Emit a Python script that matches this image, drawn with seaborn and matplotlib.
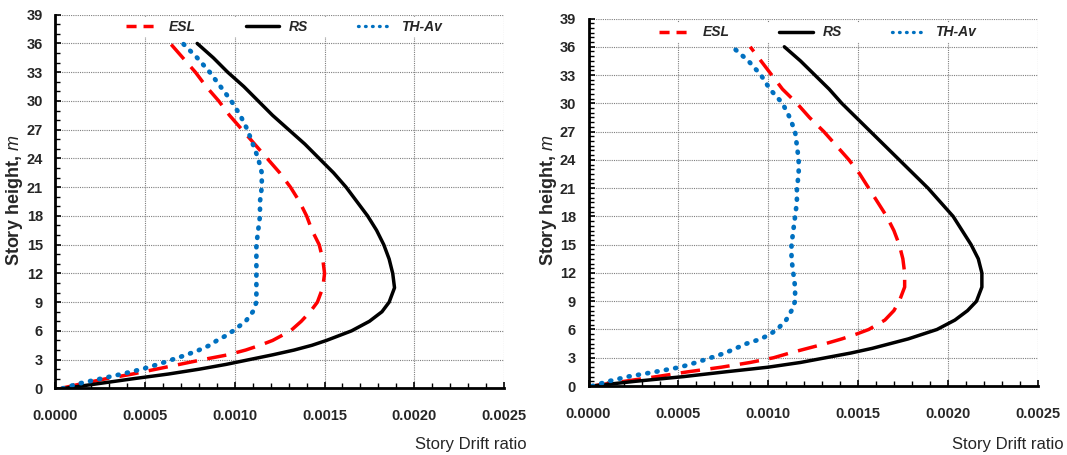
import numpy as np
import pandas as pd
import matplotlib
matplotlib.use("Agg")
import matplotlib.pyplot as plt
from matplotlib.ticker import MultipleLocator, FormatStrFormatter
import seaborn as sns

# Story heights (m) at which drift ratios are plotted
heights = [0, 0.5, 1, 1.5, 2, 2.5, 3, 3.5, 4, 4.5, 5, 5.5, 6, 7, 8, 9, 10.5, 12,
           13.5, 15, 16.5, 18, 19.5, 21, 22.5, 24, 25.5, 27, 28.5, 30, 31.5, 33, 34.5, 36]

# Left panel
esl_left = [0.00003, 0.00015, 0.00028, 0.00043, 0.00056, 0.00069, 0.00082, 0.00096, 0.00106,
            0.00114, 0.00121, 0.00126, 0.00131, 0.00137, 0.00142, 0.00146, 0.00149, 0.00150,
            0.00149, 0.00147, 0.00143, 0.00140, 0.00136, 0.00131, 0.00125, 0.00118, 0.00111,
            0.00104, 0.00097, 0.00091, 0.00084, 0.00078, 0.00071, 0.00064]
rs_left = [0.00005, 0.00024, 0.00043, 0.00063, 0.00080, 0.00095, 0.00108, 0.00121, 0.00133,
           0.00143, 0.00151, 0.00158, 0.00165, 0.00175, 0.00182, 0.00186, 0.00189, 0.00188,
           0.00186, 0.00183, 0.00179, 0.00174, 0.00168, 0.00162, 0.00155, 0.00147, 0.00139,
           0.00130, 0.00121, 0.00113, 0.00105, 0.00096, 0.00088, 0.00079]
th_left = [0.00004, 0.00013, 0.00025, 0.00037, 0.00048, 0.00057, 0.00065, 0.00073, 0.00080,
           0.00086, 0.00090, 0.00095, 0.00099, 0.00106, 0.00110, 0.00112, 0.00112, 0.00112,
           0.00112, 0.00112, 0.00113, 0.00114, 0.00114, 0.00115, 0.00115, 0.00113, 0.00110,
           0.00107, 0.00103, 0.00098, 0.00092, 0.00086, 0.00079, 0.00071]

# Right panel
esl_right = [0.00002, 0.00020, 0.00038, 0.00055, 0.00074, 0.00090, 0.00103, 0.00112, 0.00122,
             0.00132, 0.00141, 0.00149, 0.00156, 0.00165, 0.00170, 0.00173, 0.00176, 0.00176,
             0.00175, 0.00173, 0.00170, 0.00166, 0.00161, 0.00156, 0.00151, 0.00145, 0.00138,
             0.00131, 0.00123, 0.00116, 0.00108, 0.00102, 0.00096, 0.00090]
rs_right = [0.00002, 0.00026, 0.00053, 0.00076, 0.00100, 0.00118, 0.00132, 0.00146, 0.00158,
            0.00168, 0.00178, 0.00186, 0.00194, 0.00204, 0.00211, 0.00216, 0.00219, 0.00219,
            0.00217, 0.00213, 0.00208, 0.00203, 0.00196, 0.00189, 0.00181, 0.00173, 0.00165,
            0.00157, 0.00149, 0.00141, 0.00134, 0.00126, 0.00118, 0.00109]
th_right = [0.00002, 0.00011, 0.00022, 0.00037, 0.00051, 0.00060, 0.00068, 0.00076, 0.00082,
            0.00088, 0.00096, 0.00101, 0.00105, 0.00110, 0.00113, 0.00115, 0.00115, 0.00114,
            0.00113, 0.00113, 0.00114, 0.00115, 0.00116, 0.00116, 0.00117, 0.00117, 0.00116,
            0.00115, 0.00112, 0.00108, 0.00101, 0.00096, 0.00089, 0.00080]

cases = ["ESL", "RS", "TH-Av"]
x_ticks = [0.0, 0.0005, 0.0010, 0.0015, 0.0020, 0.0025]
y_ticks = list(range(0, 40, 3))

sns.set_style("white")
plt.rcParams["font.family"] = ["Liberation Sans", "DejaVu Sans"]
plt.rcParams["mathtext.fontset"] = "custom"
plt.rcParams["mathtext.it"] = "Liberation Sans:italic"

fig = plt.figure(figsize=(10.67, 4.55), dpi=100)
ax_l = fig.add_axes([0.0520, 0.1464, 0.4203, 0.8213])
ax_r = fig.add_axes([0.5516, 0.1516, 0.4208, 0.8077])

styles = {
    "ESL": dict(color="#ff0000", lw=2.5, linestyle=(0, (5.6, 3.0)), dash_capstyle="butt"),
    "RS": dict(color="#000000", lw=2.5, linestyle="-"),
    "TH-Av": dict(color="#0070c0", lw=3.4, linestyle=(0, (0.2, 1.8)), dash_capstyle="round"),
}
# Shorter patterns for the legend keys
legend_styles = {
    "ESL": dict(lw=2.5, ls=(0, (2.9, 2.0))),
    "RS": dict(lw=2.5, ls="-"),
    "TH-Av": dict(lw=2.4, ls=(0, (0.2, 1.9))),
}


def draw_panel(ax, series, minor_y, legend_y, legend_x, xlabel_pos, ylabel_pos):
    df = pd.DataFrame({"height": heights * 3,
                       "drift": sum(series, []),
                       "case": np.repeat(cases, len(heights))})
    for case in cases:
        sub = df[df["case"] == case]
        sns.lineplot(data=sub, x="drift", y="height", ax=ax, sort=False,
                     estimator=None, label=case, **styles[case])

    ax.set_xlim(0, 0.0025)
    ax.set_ylim(0, 39)
    ax.set_xticks(x_ticks)
    ax.set_yticks(y_ticks)
    ax.xaxis.set_major_formatter(FormatStrFormatter("%.4f"))
    ax.xaxis.set_minor_locator(MultipleLocator(0.0001))
    ax.yaxis.set_minor_locator(MultipleLocator(minor_y))

    ax.grid(True, which="major", color="#7f7f7f", linestyle=(0, (1, 1)), lw=0.8)
    ax.set_axisbelow(True)
    for side in ("top", "right"):
        ax.spines[side].set_visible(False)
    for side in ("left", "bottom"):
        ax.spines[side].set_color("black")
        ax.spines[side].set_linewidth(2.0)

    ax.tick_params(axis="both", which="both", direction="in", color="black",
                   left=True, bottom=True)
    ax.tick_params(axis="both", which="major", length=4, width=1.2)
    ax.tick_params(axis="both", which="minor", length=3.5, width=1.0)
    ax.tick_params(axis="x", which="major", pad=15, labelsize=10.5)
    ax.tick_params(axis="y", which="major", pad=9, labelsize=10.5)
    for lab in ax.get_xticklabels() + ax.get_yticklabels():
        lab.set_fontweight("bold")

    ax.set_xlabel("Story Drift ratio", fontsize=12, ha="right", va="center")
    ax.xaxis.set_label_coords(*xlabel_pos)
    ax.set_ylabel(r"Story height, $\mathit{m}$", fontsize=13, fontweight="bold",
                  va="center")
    ax.yaxis.set_label_coords(*ylabel_pos)

    leg = ax.legend(loc="center", bbox_to_anchor=(legend_x, legend_y), ncol=3,
                    frameon=True, facecolor="white", edgecolor="none", framealpha=1,
                    fancybox=False, handlelength=2.4, handletextpad=0.7,
                    columnspacing=3.6, borderpad=0.2,
                    prop=dict(family="Liberation Sans", weight="bold",
                              style="italic", size=10))
    for handle, text in zip(leg.legend_handles, leg.get_texts()):
        st = legend_styles[text.get_text()]
        handle.set_linewidth(st["lw"])
        handle.set_linestyle(st["ls"])


draw_panel(ax_l, [esl_left, rs_left, th_left], minor_y=1, legend_y=0.967,
           legend_x=0.51, xlabel_pos=(1.051, -0.151), ylabel_pos=(-0.0925, 0.504))
draw_panel(ax_r, [esl_right, rs_right, th_right], minor_y=0.5, legend_y=0.962,
           legend_x=0.51, xlabel_pos=(1.059, -0.158), ylabel_pos=(-0.09, 0.505))

fig.savefig("out.png", dpi=100, facecolor="white")
